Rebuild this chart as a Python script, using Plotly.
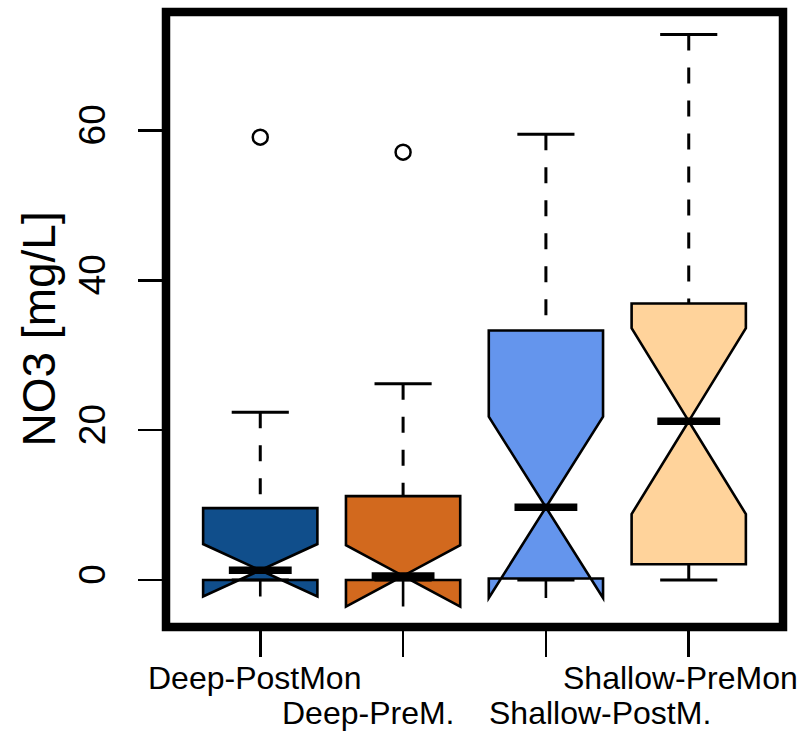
import plotly.graph_objects as go

# ---- data ----
categories = ["Deep-PostMon", "Deep-PreM.", "Shallow-PostM.", "Shallow-PreMon"]
lower_whisker = [0.0, 0.0, 0.0, 0.0]
q1_vals = [0.0, 0.0, 0.2, 2.1]
median_vals = [1.3, 0.55, 9.7, 21.2]
q3_vals = [9.6, 11.2, 33.3, 36.9]
upper_whisker = [22.4, 26.2, 59.5, 72.8]
notch_span = [3.5, 4.1, 12.1, 12.4]
outlier_cat = ["Deep-PostMon", "Deep-PreM."]
outlier_vals = [59.1, 57.1]
fill_colors = ["#104E8B", "#D2691E", "#6495ED", "#FFD39B"]
y_ticks = [0, 20, 40, 60]
y_title = "NO3 [mg/L]"

# ---- styling ----
label_row = [1, 2, 2, 1]
label_xshift = [-6, -35, 54, -8]
BOX_W = 0.8
HALF = BOX_W / 2
STAPLE = HALF * 0.5
MED_HALF = HALF * 0.55
FONT = "Liberation Sans, Arial, Helvetica, sans-serif"

positions = list(range(1, len(categories) + 1))
pos_of = {c: p for c, p in zip(categories, positions)}

fig = go.Figure()

for i, p in enumerate(positions):
    fig.add_trace(go.Box(
        x=[p], q1=[q1_vals[i]], median=[median_vals[i]], q3=[q3_vals[i]],
        lowerfence=[q1_vals[i]], upperfence=[q3_vals[i]],
        notchspan=[notch_span[i]], notched=True, notchwidth=0.5,
        width=BOX_W, whiskerwidth=0, boxpoints=False,
        fillcolor=fill_colors[i], line=dict(color="black", width=2.6),
        showlegend=False, hoverinfo="skip",
    ))

# dashed whiskers (drawn from whisker end towards the box, like R)
wx, wy = [], []
for i, p in enumerate(positions):
    wx += [p, p, None, p, p, None]
    wy += [upper_whisker[i], q3_vals[i], None, lower_whisker[i], q1_vals[i], None]
fig.add_trace(go.Scatter(x=wx, y=wy, mode="lines",
                         line=dict(color="black", width=3, dash="16px,17px"),
                         showlegend=False, hoverinfo="skip"))

# staples
sx, sy = [], []
for i, p in enumerate(positions):
    sx += [p - STAPLE, p + STAPLE, None, p - STAPLE, p + STAPLE, None]
    sy += [upper_whisker[i], upper_whisker[i], None, lower_whisker[i], lower_whisker[i], None]
fig.add_trace(go.Scatter(x=sx, y=sy, mode="lines",
                         line=dict(color="black", width=3),
                         showlegend=False, hoverinfo="skip"))

# thick medians
mx, my = [], []
for i, p in enumerate(positions):
    mx += [p - MED_HALF, p + MED_HALF, None]
    my += [median_vals[i], median_vals[i], None]
fig.add_trace(go.Scatter(x=mx, y=my, mode="lines",
                         line=dict(color="black", width=7.5),
                         showlegend=False, hoverinfo="skip"))

# outliers
fig.add_trace(go.Scatter(x=[pos_of[c] for c in outlier_cat], y=outlier_vals,
                         mode="markers",
                         marker=dict(symbol="circle-open", size=15, color="black",
                                     line=dict(width=2.5, color="black")),
                         showlegend=False, hoverinfo="skip"))

# category labels (staggered in two rows)
for i, p in enumerate(positions):
    fig.add_annotation(x=p, xref="x", y=0, yref="paper",
                       text=categories[i], showarrow=False,
                       xanchor="center", yanchor="middle",
                       xshift=label_xshift[i],
                       yshift=-51 if label_row[i] == 1 else -86,
                       font=dict(family=FONT, size=32, color="black"))

# y-axis title
fig.add_annotation(x=0, xref="paper", y=0.5, yref="paper", text=y_title,
                   showarrow=False, textangle=-90, xanchor="center",
                   yanchor="middle", xshift=-128, yshift=-10,
                   font=dict(family=FONT, size=46, color="black"))

fig.add_shape(type="rect", xref="paper", yref="paper", x0=0, x1=1, y0=0, y1=1,
              line=dict(color="black", width=8.5), layer="above")

fig.update_layout(
    width=804, height=734,
    margin=dict(l=166, r=21, t=12, b=107, pad=0),
    paper_bgcolor="white", plot_bgcolor="white",
    font=dict(family=FONT, color="black"),
    hovermode=False,
    xaxis=dict(range=[0.34, 4.66], tickvals=positions, showticklabels=False,
               ticks="outside", ticklen=29, tickwidth=2.5, tickcolor="black",
               showgrid=False, zeroline=False, showline=False, fixedrange=True),
    yaxis=dict(range=[-6.27, 75.8], tickvals=y_ticks, ticks="outside",
               ticklen=27, tickwidth=2.5, tickcolor="black", tickangle=-90,
               tickfont=dict(size=37, family=FONT, color="black"),
               ticklabelstandoff=18,
               showgrid=False, zeroline=False, showline=False, fixedrange=True),
)

fig.write_html(
    "out.html",
    config={"displayModeBar": False, "staticPlot": True},
    post_script="document.body.style.margin='0px';document.body.style.overflow='hidden';",
)
